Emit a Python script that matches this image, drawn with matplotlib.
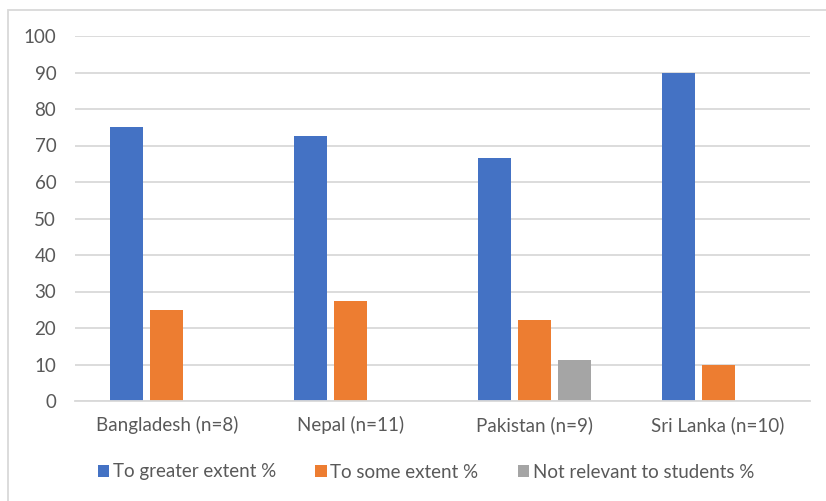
import matplotlib
matplotlib.use("Agg")
import matplotlib.pyplot as plt
from matplotlib.patches import Rectangle, Patch
import numpy as np

categories = ["Bangladesh (n=8)", "Nepal (n=11)", "Pakistan (n=9)", "Sri Lanka (n=10)"]
series_names = ["To greater extent %", "To some extent %", "Not relevant to students %"]
greater = [75.0, 72.7, 66.7, 90.0]
some = [25.0, 27.3, 22.2, 10.0]
not_relevant = [0.0, 0.0, 11.1, 0.0]
colors = ["#4472C4", "#ED7D31", "#A5A5A5"]
yticks = [0, 10, 20, 30, 40, 50, 60, 70, 80, 90, 100]

plt.rcParams["font.family"] = ["Lato", "DejaVu Sans"]
text_color = "#595959"
grid_color = "#D9D9D9"
fs = 13.5

W, H = 826, 501
fig = plt.figure(figsize=(W / 100, H / 100), dpi=100)

# chart area border
fig.patches.append(Rectangle((8 / W, -0.1), 1.2, 1 - 10 / H + 0.1,
                             transform=fig.transFigure, fill=False,
                             edgecolor=grid_color, linewidth=1.3))

ax = fig.add_axes([75 / W, 1 - 401 / H, (810 - 75) / W, (401 - 36) / H])
x = np.arange(len(categories))
bw = 0.18
step = bw + 0.038
for i, (vals, c) in enumerate(zip([greater, some, not_relevant], colors)):
    ax.bar(x + (i - 1) * step, vals, width=bw, color=c, zorder=3)

ax.set_xlim(-0.5, len(categories) - 0.5)
ax.set_ylim(0, 100)
ax.set_yticks(yticks)
ax.set_xticks(x)
ax.set_xticklabels(categories)
ax.grid(axis="y", color=grid_color, linewidth=1.3, zorder=0)
for s in ["top", "right", "left"]:
    ax.spines[s].set_visible(False)
ax.spines["bottom"].set_color(grid_color)
ax.spines["bottom"].set_linewidth(1.3)
ax.spines["bottom"].set_zorder(4)
ax.tick_params(axis="both", length=0, labelsize=fs, labelcolor=text_color)
ax.tick_params(axis="y", pad=13.5)
ax.tick_params(axis="x", pad=11)

handles = [Patch(facecolor=c, edgecolor="none") for c in colors]
fig.legend(handles, series_names, loc="center", ncol=3,
           bbox_to_anchor=(426 / W, 1 - 472 / H), frameon=False,
           handlelength=0.6, handleheight=0.6, handletextpad=0.2,
           columnspacing=2.1, fontsize=fs, labelcolor=text_color)

fig.savefig("out.png", dpi=100)
